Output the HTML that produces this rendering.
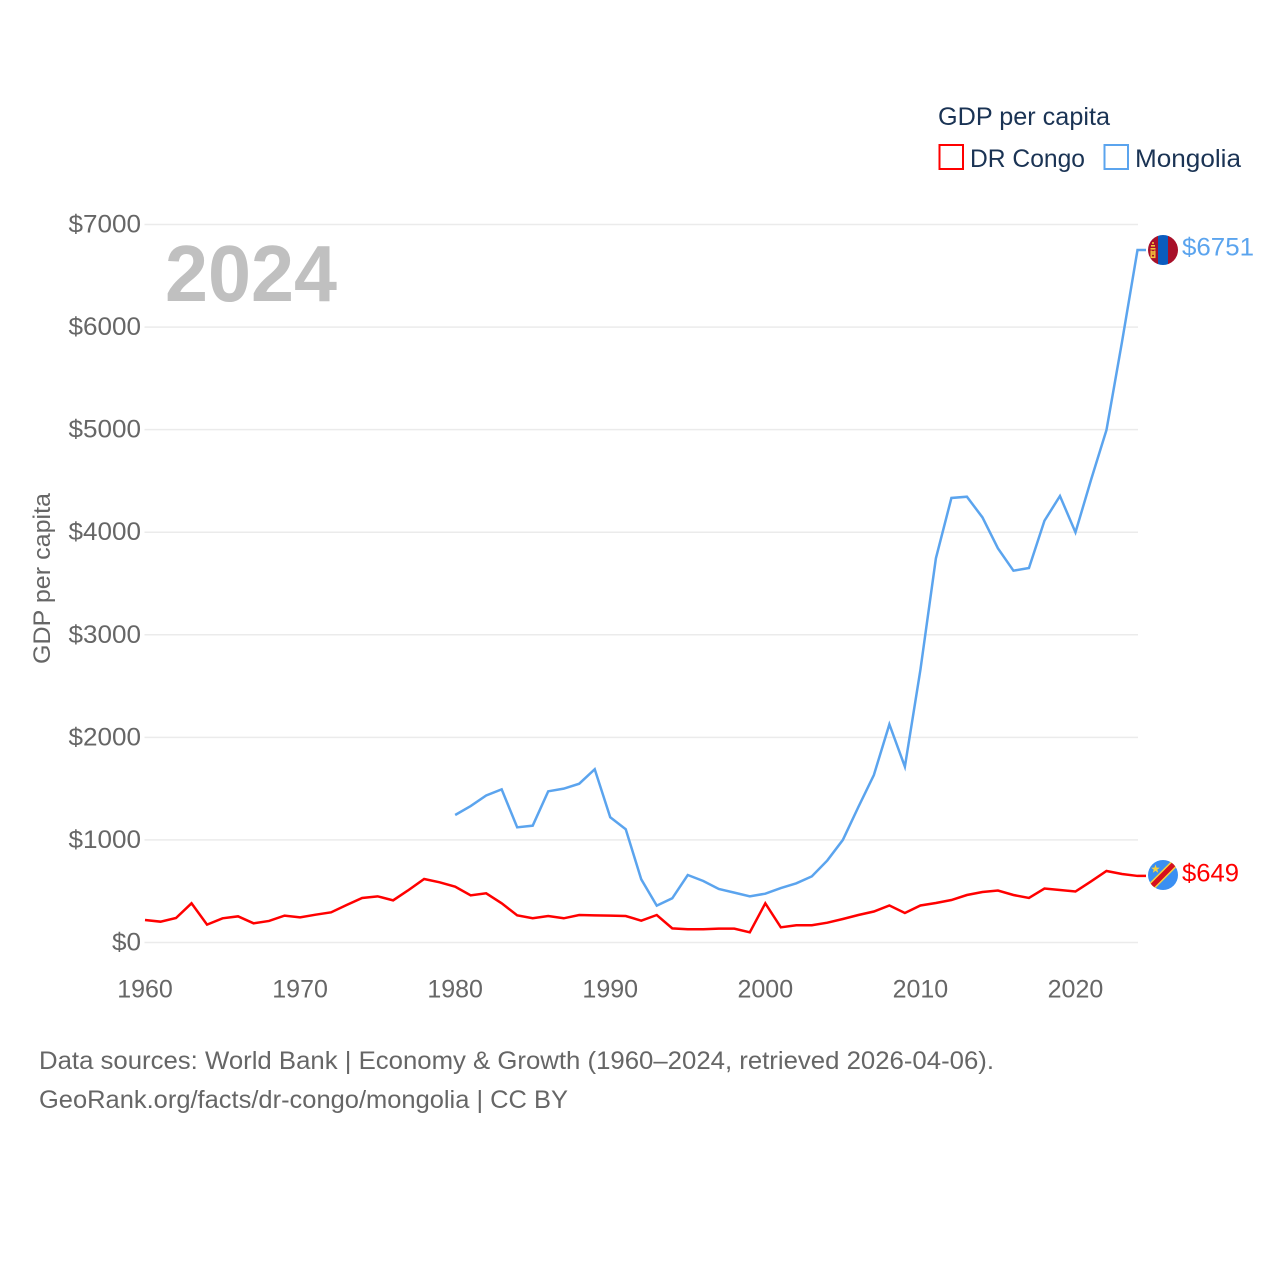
<!DOCTYPE html>
<html lang="en">
<head>
<meta charset="utf-8">
<title>GDP per capita: DR Congo and Mongolia</title>
<style>
html,body{margin:0;padding:0;background:#fff;}
svg{display:block;font-family:"Liberation Sans",sans-serif;}
</style>
</head>
<body>
<svg id="chart" xmlns="http://www.w3.org/2000/svg" width="1280" height="1280" viewBox="0 0 1280 1280">
  <defs>
    <clipPath id="flag-clip-mn"><circle cx="1163" cy="250" r="15"/></clipPath>
    <clipPath id="flag-clip-cd"><circle cx="1163" cy="875" r="15"/></clipPath>
  </defs>
  <g id="grid"></g>
  <g id="y-ticks"></g>
  <g id="x-ticks"></g>
  <text x="165" y="301" font-size="80" font-weight="700" fill="#c0c0c0" textLength="172" lengthAdjust="spacingAndGlyphs">2024</text>
  <text transform="translate(50,578.5) rotate(-90)" text-anchor="middle" font-size="24" fill="#666666" textLength="171" lengthAdjust="spacingAndGlyphs">GDP per capita</text>
  <g id="series"></g>

  <g clip-path="url(#flag-clip-mn)">
    <rect x="1148" y="235" width="10" height="30" fill="#a8102a"/>
    <rect x="1158" y="235" width="10" height="30" fill="#0b5cbf"/>
    <rect x="1168" y="235" width="10" height="30" fill="#a8102a"/>
    <rect x="1151" y="245" width="4" height="1.6" fill="#f5c63c"/>
    <rect x="1150.5" y="248" width="5" height="1.6" fill="#f5c63c"/>
    <rect x="1150.5" y="250.5" width="1.4" height="6.5" fill="#f5c63c"/>
    <rect x="1154.1" y="250.5" width="1.4" height="6.5" fill="#f5c63c"/>
    <rect x="1152.2" y="251" width="1.6" height="4" fill="#f5c63c"/>
    <rect x="1150.5" y="256.5" width="5" height="1.6" fill="#f5c63c"/>
    <rect x="1152.2" y="242" width="1.6" height="2" fill="#f5c63c"/>
  </g>
  <g clip-path="url(#flag-clip-cd)">
    <rect x="1148" y="860" width="30" height="30" fill="#3a8ff2"/>
    <line x1="1148" y1="890" x2="1178" y2="860" stroke="#f6d23f" stroke-width="8"/>
    <line x1="1148" y1="890" x2="1178" y2="860" stroke="#d5101e" stroke-width="5"/>
    <polygon points="1155.5,864.5 1156.6,867.6 1159.8,867.7 1157.3,869.6 1158.2,872.7 1155.5,870.9 1152.8,872.7 1153.7,869.6 1151.2,867.7 1154.4,867.6" fill="#f6d23f"/>
  </g>

  <g>
    <text x="938" y="125" font-size="25" fill="#1a3354" textLength="172" lengthAdjust="spacingAndGlyphs">GDP per capita</text>
    <g>
      <rect x="939.5" y="145" width="23.5" height="24" fill="#fff" stroke="#ff0000" stroke-width="2"/>
      <text x="970" y="167" font-size="25" fill="#1a3354" textLength="115" lengthAdjust="spacingAndGlyphs">DR Congo</text>
    </g>
    <g>
      <rect x="1104.5" y="145" width="23.5" height="24" fill="#fff" stroke="#5ba4ee" stroke-width="2"/>
      <text x="1135" y="167" font-size="25" fill="#1a3354" textLength="106" lengthAdjust="spacingAndGlyphs">Mongolia</text>
    </g>
  </g>

  <text x="39" y="1069" font-size="25" fill="#666666" textLength="955" lengthAdjust="spacingAndGlyphs">Data sources: World Bank | Economy &amp; Growth (1960–2024, retrieved 2026-04-06).</text>
  <text x="39" y="1108" font-size="25" fill="#666666" textLength="529" lengthAdjust="spacingAndGlyphs">GeoRank.org/facts/dr-congo/mongolia | CC BY</text>
</svg>
<script>
const years = [1960,1961,1962,1963,1964,1965,1966,1967,1968,1969,1970,1971,1972,1973,1974,1975,1976,1977,1978,1979,1980,1981,1982,1983,1984,1985,1986,1987,1988,1989,1990,1991,1992,1993,1994,1995,1996,1997,1998,1999,2000,2001,2002,2003,2004,2005,2006,2007,2008,2009,2010,2011,2012,2013,2014,2015,2016,2017,2018,2019,2020,2021,2022,2023,2024];
const drCongoValues = [219,203,239,382,174,236,255,187,210,262,245,271,294,366,434,450,411,512,619,587,544,460,480,382,265,236,258,236,268,265,262,258,213,268,138,129,129,135,135,99,382,148,168,168,193,229,268,302,361,288,361,385,414,463,492,507,463,434,526,512,497,595,697,668,649];
const mongoliaValues = [null,null,null,null,null,null,null,null,null,null,null,null,null,null,null,null,null,null,null,null,1243,1330,1433,1493,1123,1139,1474,1500,1548,1689,1221,1104,616,359,431,658,600,522,486,450,476,531,577,645,800,1000,1321,1633,2127,1714,2657,3746,4334,4346,4145,3843,3625,3651,4112,4353,3999,4509,4997,5855,6751];
const yTickValues = [0,1000,2000,3000,4000,5000,6000,7000];
const yTickLabels = ["$0","$1000","$2000","$3000","$4000","$5000","$6000","$7000"];
const xTickValues = [1960,1970,1980,1990,2000,2010,2020];

const SVG_NS = "http://www.w3.org/2000/svg";
const CHAR_WIDTH = 14.5;
function xScale(year){ return 145 + (year - 1960) * (992.5 / 64); }
function yScale(value){ return 942.5 - value * (718 / 7000); }

const grid = document.getElementById("grid");
const yTicks = document.getElementById("y-ticks");
const xTicks = document.getElementById("x-ticks");
const series = document.getElementById("series");

yTickValues.forEach(function(v, i){
  const line = document.createElementNS(SVG_NS, "line");
  
  
  line.setAttribute("x1", 144.5);
  line.setAttribute("x2", 1138);
  line.setAttribute("y1", yScale(v));
  line.setAttribute("y2", yScale(v));
  line.setAttribute("stroke", "#ebebeb");
  line.setAttribute("stroke-width", 1.5);
  grid.appendChild(line);

  const label = document.createElementNS(SVG_NS, "text");
  
  
  label.setAttribute("x", 141);
  label.setAttribute("y", yScale(v) + 8);
  label.setAttribute("text-anchor", "end");
  label.setAttribute("font-size", 25);
  label.setAttribute("fill", "#666666");
  label.setAttribute("textLength", yTickLabels[i].length * CHAR_WIDTH);
  label.setAttribute("lengthAdjust", "spacingAndGlyphs");
  label.textContent = yTickLabels[i];
  yTicks.appendChild(label);
});

xTickValues.forEach(function(y){
  const label = document.createElementNS(SVG_NS, "text");
  
  
  label.setAttribute("x", xScale(y));
  label.setAttribute("y", 997.5);
  label.setAttribute("text-anchor", "middle");
  label.setAttribute("font-size", 25);
  label.setAttribute("fill", "#666666");
  label.textContent = String(y);
  xTicks.appendChild(label);
});

function lastIndex(values){
  let i = values.length - 1;
  while (i >= 0 && values[i] === null) { i--; }
  return i;
}

function pathFor(values){
  let d = "";
  values.forEach(function(v, i){
    if (v === null) { return; }
    d += (d === "" ? "M" : "L") + xScale(years[i]).toFixed(2) + " " + yScale(v).toFixed(2);
  });
  const end = lastIndex(values);
  d += "L1146 " + yScale(values[end]).toFixed(2);
  return d;
}

const congoLine = document.createElementNS(SVG_NS, "path");


congoLine.setAttribute("d", pathFor(drCongoValues));
congoLine.setAttribute("fill", "none");
congoLine.setAttribute("stroke", "#ff0000");
congoLine.setAttribute("stroke-width", 2.5);
congoLine.setAttribute("stroke-linejoin", "miter");
series.appendChild(congoLine);

const mongoliaLine = document.createElementNS(SVG_NS, "path");


mongoliaLine.setAttribute("d", pathFor(mongoliaValues));
mongoliaLine.setAttribute("fill", "none");
mongoliaLine.setAttribute("stroke", "#5ba4ee");
mongoliaLine.setAttribute("stroke-width", 2.5);
mongoliaLine.setAttribute("stroke-linejoin", "miter");
series.appendChild(mongoliaLine);

const congoValueLabel = document.createElementNS(SVG_NS, "text");


congoValueLabel.setAttribute("x", 1182);
congoValueLabel.setAttribute("y", yScale(drCongoValues[lastIndex(drCongoValues)]) + 5.5);
congoValueLabel.setAttribute("font-size", 25);
congoValueLabel.setAttribute("fill", "#ff0000");
congoValueLabel.setAttribute("textLength", 57);
congoValueLabel.setAttribute("lengthAdjust", "spacingAndGlyphs");
congoValueLabel.textContent = "$" + drCongoValues[lastIndex(drCongoValues)];
series.appendChild(congoValueLabel);

const mongoliaValueLabel = document.createElementNS(SVG_NS, "text");


mongoliaValueLabel.setAttribute("x", 1182);
mongoliaValueLabel.setAttribute("y", yScale(mongoliaValues[lastIndex(mongoliaValues)]) + 5.5);
mongoliaValueLabel.setAttribute("font-size", 25);
mongoliaValueLabel.setAttribute("fill", "#5ba4ee");
mongoliaValueLabel.setAttribute("textLength", 72);
mongoliaValueLabel.setAttribute("lengthAdjust", "spacingAndGlyphs");
mongoliaValueLabel.textContent = "$" + mongoliaValues[lastIndex(mongoliaValues)];
series.appendChild(mongoliaValueLabel);
</script>
</body>
</html>
